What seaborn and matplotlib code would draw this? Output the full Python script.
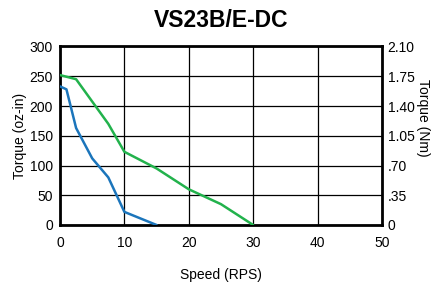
import matplotlib
matplotlib.use("Agg")
import matplotlib.pyplot as plt
import seaborn as sns
import pandas as pd

title = "VS23B/E-DC"
blue_speed = [0, 1, 2.5, 5, 7.5, 10, 15]
blue_torque = [233, 228, 163, 112, 80, 22, 0]
green_speed = [0, 2.5, 7.5, 10, 15, 20, 25, 30]
green_torque = [252, 245, 170, 123, 95, 60, 35, 0]
x_ticks = [0, 10, 20, 30, 40, 50]
y_ticks = [0, 50, 100, 150, 200, 250, 300]
nm_ticks = [0, 0.35, 0.70, 1.05, 1.40, 1.75, 2.10]
nm_labels = ["0", ".35", ".70", "1.05", "1.40", "1.75", "2.10"]

sns.set_theme(style="white")
plt.rcParams['font.family'] = ['Liberation Sans', 'DejaVu Sans']

fig = plt.figure(figsize=(4.32, 2.86), dpi=100)
ax = fig.add_axes([60/432, 61/286, 322/432, 178.5/286])

df_b = pd.DataFrame({"speed": blue_speed, "torque": blue_torque})
df_g = pd.DataFrame({"speed": green_speed, "torque": green_torque})
sns.lineplot(data=df_g, x="speed", y="torque", ax=ax, color="#22b24c", linewidth=1.8, zorder=3)
sns.lineplot(data=df_b, x="speed", y="torque", ax=ax, color="#1b75bb", linewidth=1.8, zorder=3)

ax.set_xlim(0, 50)
ax.set_ylim(0, 300)
ax.set_xticks(x_ticks)
ax.set_yticks(y_ticks)
ax.grid(True, color="black", linewidth=0.9)
ax.set_axisbelow(True)
for s in ax.spines.values():
    s.set_visible(True)
    s.set_color("black")
    s.set_linewidth(2)
ax.tick_params(axis="both", length=0, labelsize=10, colors="black", pad=5)
ax.tick_params(axis="x", pad=8)
ax.set_xlabel("Speed (RPS)", fontsize=10, color="black", labelpad=13)
ax.set_ylabel("Torque (oz-in)", fontsize=10, color="black", labelpad=2)
ax.set_title(title, fontsize=16.5, fontweight="bold", color="black", pad=14)

ax2 = ax.twinx()
ax2.set_ylim(0, 2.10)
ax2.set_yticks(nm_ticks)
ax2.set_yticklabels(nm_labels)
ax2.tick_params(axis="y", length=0, labelsize=10, colors="black", pad=4)
for s in ax2.spines.values():
    s.set_visible(False)
ax2.set_ylabel("Torque (Nm)", fontsize=10, color="black", rotation=270)
ax2.yaxis.set_label_coords(1.15, 0.60)

fig.savefig("out.png", dpi=100)
